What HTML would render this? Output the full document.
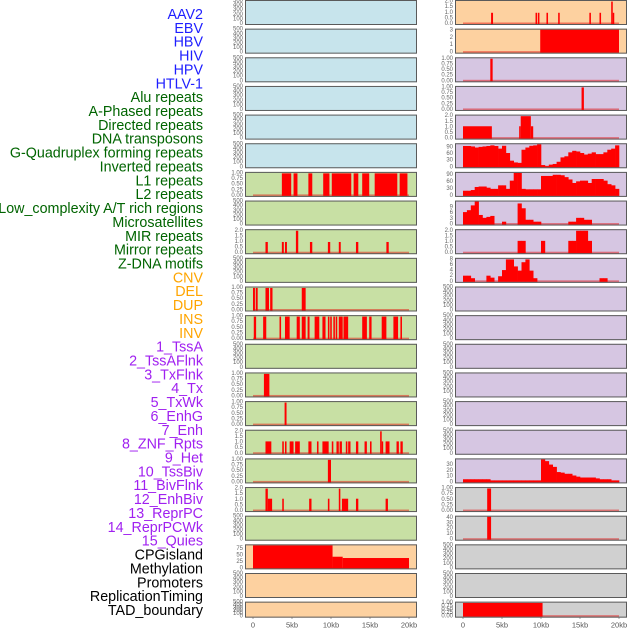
<!DOCTYPE html>
<html><head><meta charset="utf-8"><style>
html,body{margin:0;padding:0;background:#fff}
svg{display:block;font-family:"Liberation Sans",sans-serif}
</style></head><body>
<svg id="chart" width="630" height="630" viewBox="0 0 630 630"></svg>
<script>
// ---- labels ----
const labels = ["AAV2","EBV","HBV","HIV","HPV","HTLV-1","Alu repeats","A-Phased repeats","Directed repeats","DNA transposons","G-Quadruplex forming repeats","Inverted repeats","L1 repeats","L2 repeats","Low_complexity A/T rich regions","Microsatellites","MIR repeats","Mirror repeats","Z-DNA motifs","CNV","DEL","DUP","INS","INV","1_TssA","2_TssAFlnk","3_TxFlnk","4_Tx","5_TxWk","6_EnhG","7_Enh","8_ZNF_Rpts","9_Het","10_TssBiv","11_BivFlnk","12_EnhBiv","13_ReprPC","14_ReprPCWk","15_Quies","CPGisland","Methylation","Promoters","ReplicationTiming","TAD_boundary"];
const labelGroups = ["virus","virus","virus","virus","virus","virus","rep","rep","rep","rep","rep","rep","rep","rep","rep","rep","rep","rep","rep","sv","sv","sv","sv","sv","hmm","hmm","hmm","hmm","hmm","hmm","hmm","hmm","hmm","hmm","hmm","hmm","hmm","hmm","hmm","other","other","other","other","other"];
const xTickValues = [0,5,10,15,20];
const xTickLabels = ["0","5kb","10kb","15kb","20kb"];

// ---- segment data [startKb, endKb, value] ----
const segL6 = [[3.7,4.9,1],[5.2,5.7,1],[7.1,7.6,1],[9.0,9.8,1],[10.1,12.6,1],[12.9,13.5,1],[14.0,14.9,1],[15.6,18.5,1],[18.8,19.8,1]];
const segL8 = [[1.6,1.9,1],[3.7,3.95,1],[4.1,4.35,1],[5.5,5.8,2],[7.3,7.6,1],[9.6,9.9,1],[11.0,11.25,1],[13.2,13.5,1],[17.1,17.4,1]];
const segL10 = [[0,0.25,1],[0.35,0.6,1],[1.6,2.05,1],[2.2,2.5,1],[6.25,6.75,1]];
const segL11 = [[0.1,0.4,1],[1.3,1.7,1],[3.4,3.6,1],[4.1,4.7,1],[5.6,6.0,1],[6.25,6.75,1],[7.0,7.25,1],[7.9,8.5,1],[8.9,9.3,1],[9.6,9.8,1],[9.9,10.1,1],[10.3,10.5,1],[10.6,10.8,1],[11.0,11.5,1],[11.6,12.2,1],[14.0,14.6,1],[14.9,15.2,1],[16.5,17.1,1],[18.0,18.6,1],[18.9,19.1,1]];
const segL13 = [[1.4,2.1,1]];
const segL14 = [[4.05,4.3,1]];
const segL15 = [[1.6,2.35,1.1],[3.75,3.95,1.1],[4.1,4.3,1.1],[4.7,5.2,1.1],[5.4,6.0,1.1],[7.1,7.5,1.1],[8.2,8.4,1.1],[8.9,9.7,1.1],[10.1,10.3,1.1],[10.7,11.0,1.1],[11.1,11.4,1.1],[11.9,12.1,1.1],[12.2,12.5,1.1],[13.2,13.5,1.1],[14.3,14.6,1.1],[15.0,15.2,1.1],[16.3,16.5,2],[16.5,16.65,1.1],[17.0,17.5,1.1],[18.4,18.7,1.1],[18.9,19.2,1.1]];
const segL16 = [[9.6,10.0,1]];
const segL17 = [[1.6,1.9,2],[1.9,2.45,1.1],[3.75,3.95,1.1],[7.2,7.5,1.1],[9.6,9.8,1.1],[11.0,11.2,2],[11.4,12.2,1.1],[13.2,13.5,1.1],[17.0,17.3,1.1]];
const segL19 = [[0,10.2,89],[10.2,11.5,45],[11.5,20,40]];
const segR0 = [[3.6,3.85,1],[9.3,9.5,1],[9.6,9.8,1],[10.7,10.9,1],[12.2,12.4,1],[16.2,16.4,1],[17.5,17.7,1],[19.0,19.2,2],[19.2,19.3,1]];
const segR1 = [[9.9,20,3.1]];
const segR2 = [[3.5,3.8,1]];
const segR3 = [[15.2,15.5,1]];
const segR4 = [[0,3.7,1.1],[7.2,7.4,1.1],[7.4,8.7,2],[8.7,9.0,1.1]];
const segR17 = [[3.1,3.6,1]];
const segR18 = [[3.1,3.6,42]];
const segR21 = [[0,10.2,1]];

// ---- profile data, 0.5kb bins ----
const profR5 = [97,97,95,90,93,95,97,100,97,85,98,65,30,22,20,80,90,98,100,105,10,5,12,15,25,45,50,68,75,72,65,58,62,68,60,60,68,80,85,100];
const profR6 = [22,22,25,38,40,40,35,30,30,45,45,30,65,98,98,30,28,28,28,28,85,85,85,90,90,88,80,70,55,62,65,65,55,72,72,72,65,50,45,30];
const profR7 = [6.5,7.5,10,12,5,3.5,4,4.5,0,0,1.5,0,0,0,11,8.5,2.5,2.5,1.5,1.5,0,0,0,0,0,0,0,1.5,1.5,3.5,3.5,2.5,2.5,0,0,0,0,0,0,0];
const profR8 = [0,0,0,0,0,0,0,0,0,0,0,0,0,0,1.1,1.1,0,0,0,0,1.1,0,0,0,0,0,0,1.1,1.1,2,2,2,1.1,0,0,0,0,0,0,0];
const profR9 = [2.2,2.2,1.3,0,0,0,2.2,1.5,0,2,4.2,8,8,5.5,4,7,8,4,1.3,0,0,0,0,0,0,0,0,0,0,0,0,0,0,0,0,1.3,1.3,0,0,0];
const profR16 = [5.5,5.5,5.5,5.5,5.5,5.5,5.5,3.5,3.5,3.5,3.5,3.5,3.5,3.5,3.5,3.5,3.5,3.5,3.5,3.5,40,37,31,27,18,17,15,15,12,10,8.5,8.5,8.5,8.5,7,5.5,5.5,5.5,3.5,3.5];

// ---- tick sets ----
const ticksEmpty = [0,100,200,300,400,500];
const ticks1 = [0,0.25,0.5,0.75,1];
const ticks2 = [0,0.5,1,1.5,2];

const BG = {virus:"#c7e4ec",rep:"#c8e0a4",sv:"#fdd1a0",hmm:"#d6c6e2",other:"#d0d0d0"};
const panels = [];
for (let i=0;i<44;i++){
  panels.push({col: i<22?0:1, row: i%22, grp: labelGroups[i], ymax:500, ticks:ticksEmpty, tickFmt:0, segs:null, prof:null});
}
function setP(i,ymax,ticks,fmt,segs,prof){Object.assign(panels[i],{ymax,ticks,tickFmt:fmt,segs,prof});}
setP(6,1.02,ticks1,2,segL6,null);
setP(8,2.05,ticks2,1,segL8,null);
setP(10,1.02,ticks1,2,segL10,null);
setP(11,1.02,ticks1,2,segL11,null);
setP(13,1.02,ticks1,2,segL13,null);
setP(14,1.02,ticks1,2,segL14,null);
setP(15,2.05,ticks2,1,segL15,null);
setP(16,1.02,ticks1,2,segL16,null);
setP(17,2.05,ticks2,1,segL17,null);
setP(19,89,[0,25,50,75],0,segL19,null);
setP(22,2.05,ticks2,1,segR0,null);
setP(23,3.1,[0,1,2,3],0,segR1,null);
setP(24,1.02,ticks1,2,segR2,null);
setP(25,1.02,ticks1,2,segR3,null);
setP(26,2.05,ticks2,1,segR4,null);
setP(27,105,[0,30,60,90],0,null,profR5);
setP(28,98,[0,30,60,90],0,null,profR6);
setP(29,12,[0,3,6,9],0,null,profR7);
setP(30,2.05,ticks2,1,null,profR8);
setP(31,8.2,[0,2,4,6,8],0,null,profR9);
setP(38,40,[0,10,20,30],0,null,profR16);
setP(39,1.02,ticks1,2,segR17,null);
setP(40,42,[0,10,20,30,40],0,segR18,null);
setP(43,1.02,ticks1,2,segR21,null);

const NS="http://www.w3.org/2000/svg";
const svg=document.getElementById('chart');
function mk(tag,attrs,parent){const e=document.createElementNS(NS,tag);for(const k in attrs)e.setAttribute(k,attrs[k]);(parent||svg).appendChild(e);return e;}

const LCOL={virus:"#1e1eff",rep:"#006400",sv:"#ffa500",hmm:"#a020f0",other:"#000"};
labels.forEach((t,i)=>{
  const e=mk('text',{x:203,y:15+i*13.86,'text-anchor':'end','dominant-baseline':'central','font-size':14.3,fill:LCOL[labelGroups[i]]});
  e.textContent=t;
  
  
});

const colX=[245,455], PW=172, dataX0=[253,463], PXKB=7.8;
function rowTop(r){return r*28.65;}
function rowH(r){return r===21?16:25;}

panels.forEach((p,i)=>{
  const g=mk('g',{});
  
  
  const x0=colX[p.col], top=rowTop(p.row), h=rowH(p.row), bot=top+h;
  mk('rect',{x:x0,y:top,width:PW,height:h,fill:BG[p.grp]},g);
  const xs=kb=>dataX0[p.col]+kb*PXKB;
  const ys=v=>bot-1-v/p.ymax*(h-2);
  const hasData=p.segs||p.prof;
  if(hasData){
    const bl=mk('rect',{x:xs(0),y:ys(0)-1.5,width:xs(20)-xs(0),height:2,fill:'rgba(230,0,0,0.45)'},g);
    
    
  }
  if(p.segs){
    p.segs.forEach(s=>{
      const r=mk('rect',{x:xs(s[0]),y:ys(s[2]),width:Math.max(1.5,xs(s[1])-xs(s[0])),height:ys(0)-ys(s[2]),fill:'#ff0000'},g);
      
      
    });
  }
  if(p.prof){
    p.prof.forEach((v,k)=>{
      if(v<=0)return;
      const r=mk('rect',{x:xs(k*0.5),y:ys(v),width:xs(0.5)-xs(0)+0.3,height:ys(0)-ys(v),fill:'#ff0000'},g);
      
      
    });
  }
  mk('rect',{x:x0+0.5,y:top+0.5,width:PW-1,height:h-1,fill:'none',stroke:'#5a5a5a','stroke-width':1},g);
  p.ticks.forEach(t=>{
    const tx=mk('text',{x:x0-2,y:ys(t),'text-anchor':'end','dominant-baseline':'central','font-size':6,fill:'#666'},g);
    tx.textContent=p.tickFmt?t.toFixed(p.tickFmt):String(t);
    
    
  });
});

[0,1].forEach(c=>{
  xTickValues.forEach((v,k)=>{
    const x=dataX0[c]+v*PXKB;
    mk('line',{x1:x,x2:x,y1:617,y2:619,stroke:'#666','stroke-width':0.6});
    const t=mk('text',{x:x,y:625,'text-anchor':'middle','dominant-baseline':'central','font-size':7.5,fill:'#555'});
    t.textContent=xTickLabels[k];
    
    
  });
});
</script>
</body></html>
